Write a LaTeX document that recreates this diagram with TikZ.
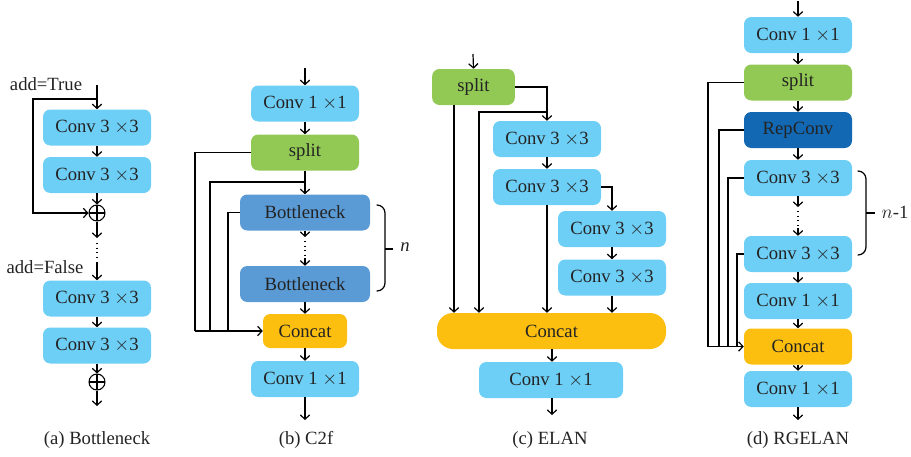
\documentclass[tikz,border=0pt]{standalone}
\usepackage{fontspec}
\setmainfont{Liberation Serif}
\usetikzlibrary{arrows.meta,calc}
\definecolor{convblue}{RGB}{110,207,246}
\definecolor{splitgreen}{RGB}{146,200,84}
\definecolor{bneckblue}{RGB}{91,155,213}
\definecolor{concatyellow}{RGB}{252,190,15}
\definecolor{repblue}{RGB}{18,104,178}
\definecolor{inkgray}{RGB}{35,35,35}
\begin{document}
\begin{tikzpicture}[x=0.75pt,y=-0.75pt,
  blk/.style={rounded corners=5.5pt, inner sep=0pt, minimum height=27pt,
    font=\fontsize{14}{16}\selectfont, text=inkgray},
  conv/.style={blk, fill=convblue, minimum width=81pt},
  splitbox/.style={blk, fill=splitgreen, minimum width=81pt},
  bneck/.style={blk, fill=bneckblue, minimum width=97.5pt},
  concatbox/.style={blk, fill=concatyellow, minimum width=63pt, minimum height=25.5pt},
  repbox/.style={blk, fill=repblue, minimum width=81pt},
  addop/.style={circle, draw, line width=0.8pt, minimum size=12pt, inner sep=0pt,
    path picture={\draw[line width=0.8pt] (path picture bounding box.north) -- (path picture bounding box.south)
      (path picture bounding box.west) -- (path picture bounding box.east);}},
  ln/.style={line width=0.9pt, black},
  arr/.style={ln, -{Straight Barb[length=3.2pt,width=7pt,line width=0.9pt]}},
  dotline/.style={line width=0.8pt, dash pattern=on 0.8pt off 2.6pt},
  bracket/.style={ln, line cap=round},
  lbl/.style={font=\fontsize{14}{16}\selectfont, text=inkgray, inner sep=0pt},
  captext/.style={font=\fontsize{14}{16}\selectfont, text=inkgray, inner sep=0pt}
]
\useasboundingbox (0,0) rectangle (911,457);

% ---------------- (a) Bottleneck ----------------
\coordinate (ain) at (97,85);
\coordinate (asp) at (97,99);
\node[lbl] (addT) at (46,84) {add=True};
\node[conv] (a1) at (97,127.5) {Conv 3 $\times$3};
\node[conv] (a2) at (97,175) {Conv 3 $\times$3};
\node[addop] (ac1) at (97,213) {};
\coordinate (ad1) at (97,238);
\coordinate (adots1) at (97,243);
\coordinate (adots2) at (97,258);
\coordinate (ain2) at (97,262);
\node[lbl] (addF) at (45,267) {add=False};
\node[conv] (a3) at (97,298.5) {Conv 3 $\times$3};
\node[conv] (a4) at (97,345.5) {Conv 3 $\times$3};
\node[addop] (ac2) at (97,382) {};
\coordinate (aout) at (97,406);
\draw[arr] (ain) -- (a1.north);
\draw[arr] (asp) -- ++(-64,0) |- (ac1.west);
\draw[arr] (a1) -- (a2);
\draw[arr] (a2) -- (ac1.north);
\draw[arr] (ac1.south) -- (ad1);
\draw[dotline] (adots1) -- (adots2);
\draw[arr] (ain2) -- (a3.north);
\draw[arr] (a3) -- (a4);
\draw[arr] (a4) -- (ac2.north);
\draw[arr] (ac2.south) -- (aout);
\node[captext] (capa) at (97,440) {(a) Bottleneck};

% ---------------- (b) C2f ----------------
\coordinate (bin) at (305,68);
\node[conv] (b1) at (305,103.5) {Conv 1 $\times$1};
\node[splitbox] (b2) at (305,152.5) {split};
\node[bneck] (b3) at (305,212.5) {Bottleneck};
\node[bneck] (b4) at (305,284) {Bottleneck};
\node[concatbox] (b5) at (305,331) {Concat};
\node[conv] (b6) at (305,379) {Conv 1 $\times$1};
\coordinate (bout) at (305,420);
\coordinate (bbr) at (305,182);
\coordinate (bd1) at (305,237);
\coordinate (bdots1) at (305,241);
\coordinate (bdots2) at (305,256);
\coordinate (bd2) at (305,258);
\coordinate (bx1) at (195,331);
\coordinate (bx2) at (210,331);
\coordinate (bx3) at (228,331);
\draw[arr] (bin) -- (b1.north);
\draw[arr] (b1) -- (b2);
\draw[arr] (b2) -- (b3);
\draw[arr] (b3.south) -- (bd1);
\draw[dotline] (bdots1) -- (bdots2);
\draw[arr] (bd2) -- (b4.north);
\draw[arr] (b4) -- (b5);
\draw[arr] (b5) -- (b6);
\draw[arr] (b6.south) -- (bout);
\draw[ln] (b2.west) -| (bx1);
\draw[ln] (bbr) -| (bx2);
\draw[ln] (b3.west) -| (bx3);
\draw[arr] (bx1) -- (b5.west);
% bracket spanning the n bottlenecks
\draw[bracket] (377,205) to[out=0,in=90] (385,213) -- (385,283) to[out=-90,in=0] (377,291);
\draw[ln] (385,249) -- (393,249);
\node[lbl, font=\fontsize{14}{16}\selectfont\itshape] (bn) at (405,247) {n};
\node[captext] (capb) at (306,440) {(b) C2f};

% ---------------- (c) ELAN ----------------
\coordinate (cin) at (473,54);
\node[splitbox, minimum width=62pt] (c1) at (473.5,87) {split};
\node[conv] (c2) at (547,139) {Conv 3 $\times$3};
\node[conv] (c3) at (547,187) {Conv 3 $\times$3};
\node[conv] (c4) at (612,229) {Conv 3 $\times$3};
\node[conv] (c5) at (612,277.5) {Conv 3 $\times$3};
\node[blk, fill=concatyellow, minimum width=171.75pt, minimum height=27pt, rounded corners=12pt] (c6) at (551.5,331) {Concat};
\node[conv, minimum width=108pt] (c7) at (551,380) {Conv 1 $\times$1};
\coordinate (cbr) at (547,112);
\coordinate (cxa) at (454,0);
\coordinate (cxb) at (479,0);
\coordinate (cxm) at (552,0);
\coordinate (cout) at (552,415);
\draw[arr] (cin) -- (c1.north);
\draw[arr] (c1.east) -| (c2.north);
\draw[arr] (cbr) -| (c6.north -| cxb);
\draw[arr] (c1.south -| cxa) -- (c6.north -| cxa);
\draw[arr] (c2) -- (c3);
\draw[arr] (c3.south) -- (c3.south |- c6.north);
\draw[arr] (c3.east) -| (c4.north);
\draw[arr] (c4) -- (c5);
\draw[arr] (c5.south) -- (c5.south |- c6.north);
\draw[arr] (c6.south -| cxm) -- (c7.north -| cxm);
\draw[arr] (c7.south -| cxm) -- (cout);
\node[captext] (capc) at (550,440) {(c) ELAN};

% ---------------- (d) RGELAN ----------------
\coordinate (din) at (798,1);
\node[conv] (d1) at (798,35) {Conv 1 $\times$1};
\node[splitbox] (d2) at (798,82.5) {split};
\node[repbox] (d3) at (798,130) {RepConv};
\node[conv] (d4) at (798,178) {Conv 3 $\times$3};
\node[conv] (d5) at (798,254) {Conv 3 $\times$3};
\node[conv] (d6) at (798,301) {Conv 1 $\times$1};
\node[concatbox, minimum width=81pt, minimum height=27pt] (d7) at (798,346.5) {Concat};
\node[conv] (d8) at (798,389) {Conv 1 $\times$1};
\coordinate (dout) at (798,420);
\coordinate (dd1) at (798,207);
\coordinate (ddots1) at (798,211);
\coordinate (ddots2) at (798,226);
\coordinate (dd2) at (798,228);
\coordinate (dx1) at (708,346.5);
\coordinate (dx2) at (719,346.5);
\coordinate (dx3) at (728,346.5);
\coordinate (dx4) at (737,346.5);
\draw[arr] (din) -- (d1.north);
\draw[arr] (d1) -- (d2);
\draw[arr] (d2) -- (d3);
\draw[arr] (d3) -- (d4);
\draw[arr] (d4.south) -- (dd1);
\draw[dotline] (ddots1) -- (ddots2);
\draw[arr] (dd2) -- (d5.north);
\draw[arr] (d5) -- (d6);
\draw[arr] (d6) -- (d7);
\draw[arr] (d7) -- (d8);
\draw[arr] (d8.south) -- (dout);
\draw[ln] (d2.west) -| (dx1);
\draw[ln] (d3.west) -| (dx2);
\draw[ln] (d4.west) -| (dx3);
\draw[ln] (d5.west) -| (dx4);
\draw[arr] (dx1) -- (d7.west);
% bracket spanning the n-1 convolutions
\draw[bracket] (858,171) to[out=0,in=90] (866,179) -- (866,247) to[out=-90,in=0] (858,255);
\draw[ln] (866,213) -- (875,213);
\node[lbl] (dn) at (895,212) {$n$-1};
\node[captext] (capd) at (798,440) {(d) RGELAN};
\end{tikzpicture}
\end{document}
